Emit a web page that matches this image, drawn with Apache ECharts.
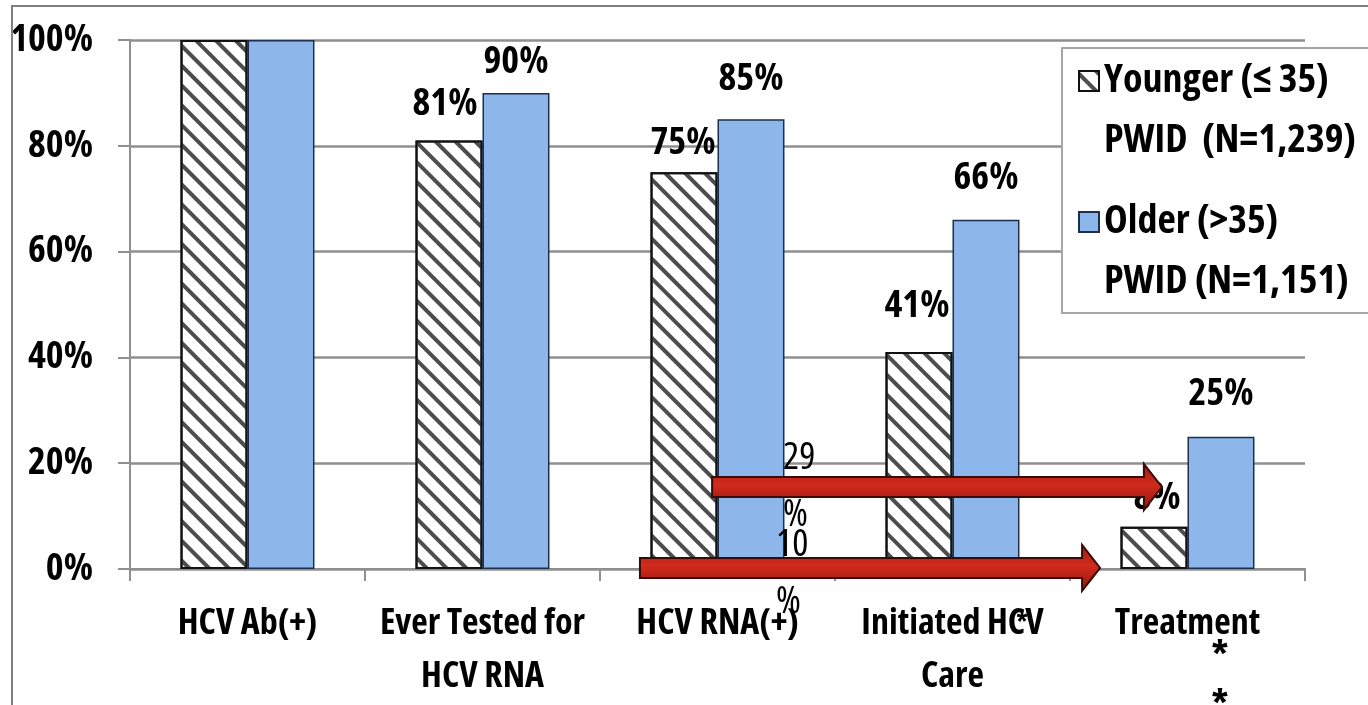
<!DOCTYPE html>
<html>
<head>
<meta charset="utf-8">
<script src="https://cdn.jsdelivr.net/npm/echarts@6/dist/echarts.min.js"></script>
<style>
  html, body { margin: 0; padding: 0; background: #ffffff; }
  #chart { width: 1368px; height: 705px; }
</style>
</head>
<body>
<div id="chart"></div>
<script>
// HCV care cascade among people who inject drugs, by age group
const categories = ['HCV Ab(+)', 'Ever Tested for\nHCV RNA', 'HCV RNA(+)', 'Initiated HCV\nCare', 'Treatment'];
const youngerName = 'Younger (≤ 35)\nPWID  (N=1,239)';
const olderName = 'Older (>35)\nPWID (N=1,151)';
const youngerValues = [100, 81, 75, 41, 8];
const olderValues = [100, 90, 85, 66, 25];
const yTickValues = [0, 20, 40, 60, 80, 100];
const dropLabels = ['29\n%', '10\n%'];

// label nudges (px) for the value labels above the bars
const youngerLabelShift = [[0, 0], [-4, -12], [-1, -5], [-2, -22], [3, -5]];
const olderLabelShift = [[0, 0], [0, -7], [0, -16], [0, -18], [0, -19]];

// Pick a narrow sans face: a dedicated narrow family if installed,
// otherwise a width-variable family drawn with font-stretch: condensed.
function pickFace() {
  const ctx = document.createElement('canvas').getContext('2d');
  const sample = 'HCV Ab(+) PWID 1,239 90%';
  const width = (font) => { ctx.font = 'bold 40px monospace'; ctx.font = font; return ctx.measureText(sample).width; };
  const mono = width('bold 40px monospace');
  if (Math.abs(width("bold 40px 'Liberation Sans Narrow', monospace") - mono) > 0.5) {
    return { stretch: '', family: "'Liberation Sans Narrow'" };
  }
  const families = ["'Open Sans'", "'Noto Sans'", 'Roboto'];
  for (const fam of families) {
    const regular = width('bold 40px ' + fam);
    const narrow = width('bold condensed 40px ' + fam);
    if (narrow < regular * 0.9) return { stretch: 'condensed', family: fam };
  }
  return { stretch: '', family: "'Liberation Sans'" };
}
const face = pickFace();
const BOLD = ('bold ' + face.stretch).trim();
const REGULAR = ('normal ' + face.stretch).trim();
const FONT = face.family;
const GRID_GRAY = '#8f8f8f';

function labelledData(values, shifts) {
  return values.map((v, i) => ({
    value: v,
    label: { show: i > 0, offset: shifts[i] }
  }));
}

const valueLabel = {
  show: true,
  position: 'top',
  distance: 5,
  formatter: '{c}%',
  color: '#000',
  fontFamily: FONT,
  fontWeight: BOLD,
  fontSize: 38
};

const legendText = {
  color: '#000',
  fontFamily: FONT,
  fontWeight: BOLD,
  fontSize: 40,
  lineHeight: 60
};

const chart = echarts.init(document.getElementById('chart'), null, { renderer: 'canvas' });

chart.setOption({
  animation: false,
  backgroundColor: '#ffffff',
  grid: { left: 130, right: 63, top: 40, bottom: 136, containLabel: false, outerBoundsMode: 'none' },
  xAxis: {
    type: 'category',
    data: categories,
    axisLine: { lineStyle: { color: GRID_GRAY, width: 2 } },
    axisTick: { show: true, length: 12, interval: 0, lineStyle: { color: GRID_GRAY, width: 2 } },
    axisLabel: {
      interval: 0,
      margin: 28,
      color: '#000',
      fontFamily: FONT,
      fontWeight: BOLD,
      fontSize: 36,
      lineHeight: 53
    }
  },
  yAxis: {
    type: 'value',
    min: yTickValues[0],
    max: yTickValues[yTickValues.length - 1],
    interval: yTickValues[1] - yTickValues[0],
    axisLine: { show: true, lineStyle: { color: GRID_GRAY, width: 2 } },
    axisTick: { show: true, length: 12, lineStyle: { color: GRID_GRAY, width: 2 } },
    splitLine: { lineStyle: { color: GRID_GRAY, width: 2.5 } },
    axisLabel: {
      margin: 37,
      formatter: '{value}%',
      color: '#000',
      fontFamily: FONT,
      fontWeight: BOLD,
      fontSize: 38
    }
  },
  // one legend block per group; the leading blank line keeps the swatch level with the first text line
  legend: [
    {
      data: [youngerName],
      formatter: (name) => '\n' + name,
      orient: 'vertical',
      left: 1078,
      top: -9,
      padding: 0,
      icon: 'rect',
      itemWidth: 20,
      itemHeight: 20,
      selectedMode: false,
      textStyle: legendText,
      z: 5
    },
    {
      data: [olderName],
      formatter: (name) => '\n' + name,
      orient: 'vertical',
      left: 1078,
      top: 132,
      padding: 0,
      icon: 'rect',
      itemWidth: 20,
      itemHeight: 20,
      selectedMode: false,
      textStyle: legendText,
      z: 5
    }
  ],
  series: [
    {
      name: youngerName,
      type: 'bar',
      barGap: '0%',
      barCategoryGap: '43%',
      data: labelledData(youngerValues, youngerLabelShift),
      itemStyle: {
        color: '#ffffff',
        borderColor: '#111111',
        borderWidth: 2,
        decal: {
          symbol: 'rect',
          symbolSize: 1,
          color: '#4d4d4d',
          backgroundColor: null,
          dashArrayX: [1, 0],
          dashArrayY: [4, 10],
          rotation: Math.PI / 4
        }
      },
      label: valueLabel,
      z: 2
    },
    {
      name: olderName,
      type: 'bar',
      barGap: '0%',
      barCategoryGap: '43%',
      data: labelledData(olderValues, olderLabelShift),
      itemStyle: {
        color: '#8db7ea',
        borderColor: '#1d2f4d',
        borderWidth: 1.5
      },
      label: valueLabel,
      z: 2
    }
  ]
});

// ---- annotations: drop arrows, footnote marks, legend frame, slide frame ----
function toPx(catPos, value) {
  const a = chart.convertToPixel({ xAxisIndex: 0, yAxisIndex: 0 }, [0, value]);
  const b = chart.convertToPixel({ xAxisIndex: 0, yAxisIndex: 0 }, [1, value]);
  return [a[0] + catPos * (b[0] - a[0]), a[1]];
}

function arrowShape(fromCat, toCat, value) {
  const tail = toPx(fromCat, value);
  const tip = toPx(toCat, value);
  const half = 10, headHalf = 23, headLen = 18;
  const y = tail[1];
  return [
    [tail[0], y - half], [tip[0] - headLen, y - half], [tip[0] - headLen, y - headHalf],
    [tip[0], y], [tip[0] - headLen, y + headHalf], [tip[0] - headLen, y + half], [tail[0], y + half]
  ];
}

const arrowFill = new echarts.graphic.LinearGradient(0, 0, 0, 1, [
  { offset: 0, color: '#9e1b11' },
  { offset: 0.45, color: '#d22b1d' },
  { offset: 1, color: '#8f170e' }
]);

// drop arrows run from the RNA(+) stage toward treatment
const arrows = [
  { from: 1.977, to: 3.891, value: 15.5, text: dropLabels[0], textAt: 2.279, textValue: 15.6 },
  { from: 1.670, to: 3.628, value: 0.2, text: dropLabels[1], textAt: 2.249, textValue: -0.85 }
];

const graphics = [];
arrows.forEach((a) => {
  const p = toPx(a.textAt, a.textValue);
  graphics.push({
    type: 'text', z: 50,
    style: {
      x: p[0], y: p[1], text: a.text, align: 'left', verticalAlign: 'middle',
      fill: '#000', font: REGULAR + ' 38px ' + FONT, lineHeight: 57
    }
  });
});
arrows.forEach((a) => {
  graphics.push({
    type: 'polygon', z: 60,
    shape: { points: arrowShape(a.from, a.to, a.value) },
    style: { fill: arrowFill, stroke: '#3a0a06', lineWidth: 2 }
  });
});

// footnote marks around the last two stage labels
const marks = [
  { cat: 3.296, value: -10.4, size: 26 },
  { cat: 4.138, value: -16.6, size: 38 },
  { cat: 4.138, value: -25.9, size: 38 }
];
marks.forEach((m) => {
  const p = toPx(m.cat, m.value);
  graphics.push({
    type: 'text', z: 50,
    style: {
      x: p[0], y: p[1], text: '*', align: 'center', verticalAlign: 'middle',
      fill: '#000', font: BOLD + ' ' + m.size + 'px ' + FONT
    }
  });
});

// legend frame (under the legend entries) and outer slide frame
graphics.push({
  type: 'rect', z: 3, silent: true,
  shape: { x: 1062, y: 48, width: 320, height: 265 },
  style: { fill: '#ffffff', stroke: '#a6a6a6', lineWidth: 2 }
});
graphics.push({
  type: 'rect', z: 40, silent: true,
  shape: { x: 12, y: 6, width: 1370, height: 720 },
  style: { fill: null, stroke: '#7f7f7f', lineWidth: 2 }
});

chart.setOption({ graphic: graphics });
</script>
</body>
</html>
